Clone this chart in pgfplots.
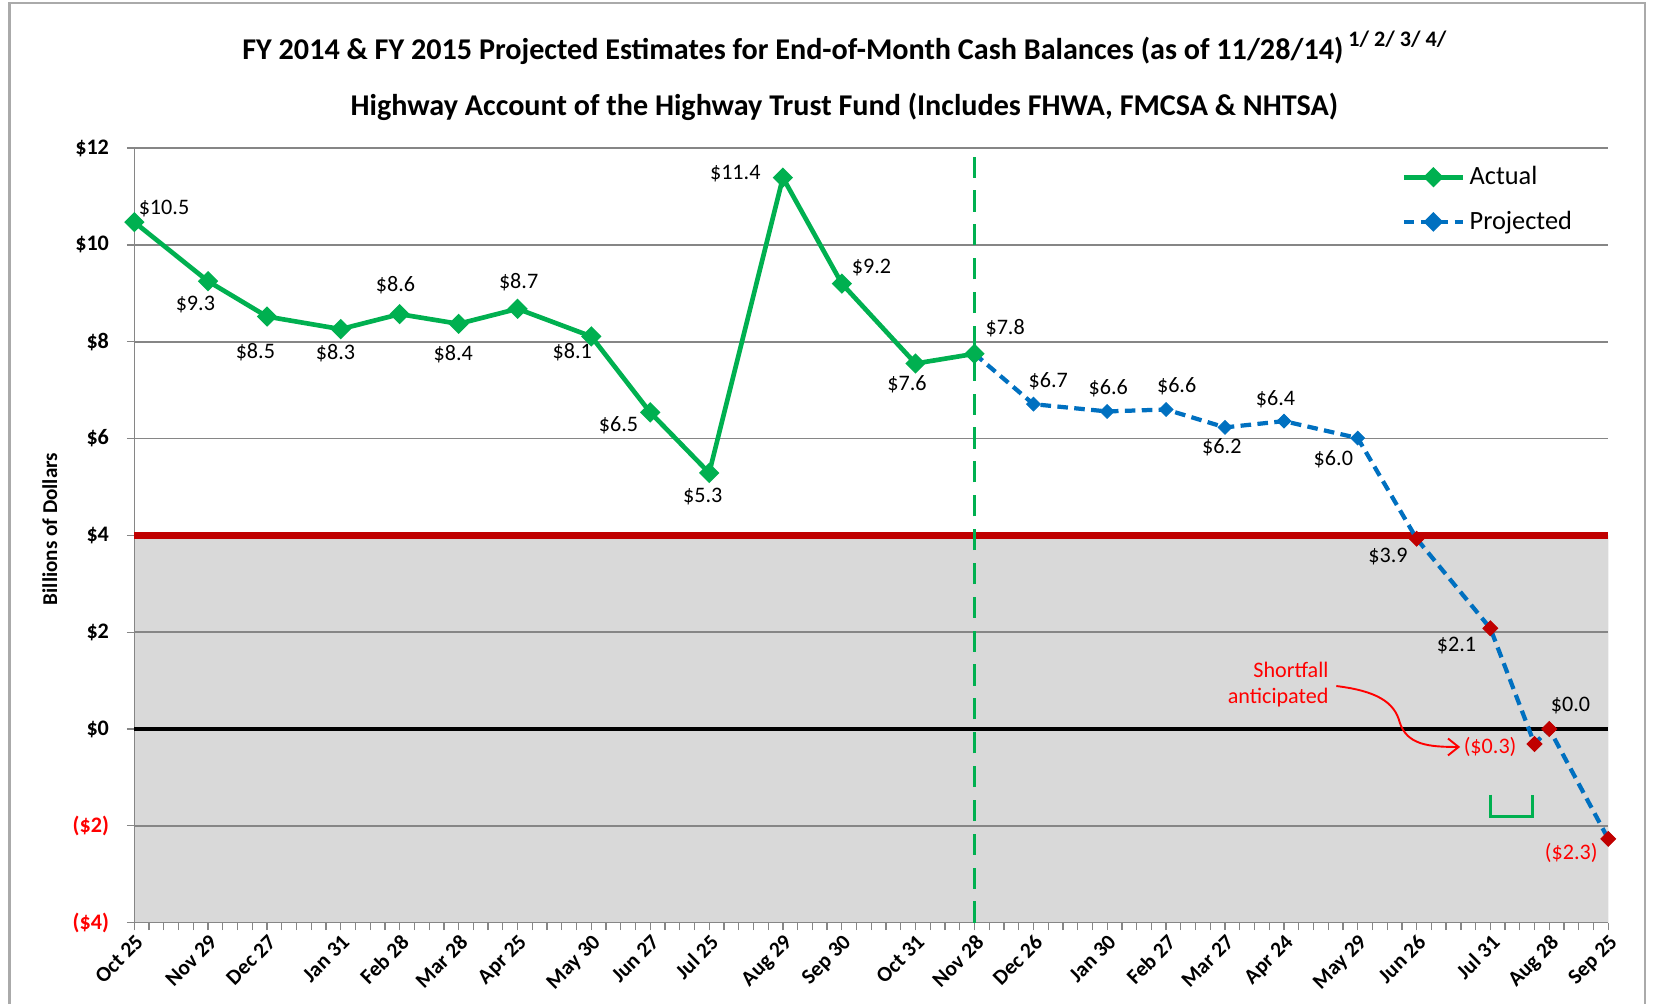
\documentclass[border=0pt]{standalone}
\usepackage{pgfplots}
\pgfplotsset{compat=1.18}
\usepackage{pgfplotstable}
\usepackage{fontspec}
\setmainfont{Carlito}
\usetikzlibrary{arrows.meta}
\definecolor{xlgreen}{HTML}{00B050}
\definecolor{xlblue}{HTML}{0070C0}
\definecolor{xldred}{HTML}{C00000}
\definecolor{xlred}{HTML}{FF0000}
\definecolor{xlgrid}{HTML}{868686}
\definecolor{xlfill}{HTML}{D9D9D9}

% x = days since Oct 25, 2013
\pgfplotstableread{
x   y      lbl   dx   dy
0   10.47  10.5  28   13
35  9.25   9.3   -12  -22
63  8.52   8.5   -11  -34
98  8.26   8.3   -5   -23
126 8.57   8.6   -4   27
154 8.37   8.4   -5   -29
182 8.68   8.7   1    25
217 8.11   8.1   -18  -15
245 6.54   6.5   -30  -12
273 5.29   5.3   -6   -22
308 11.39  11.4  -45  4
336 9.20   9.2   28   15
371 7.55   7.6   -8   -20
399 7.75   7.8   29   24
}\actual

\pgfplotstableread{
x   y
399 7.75
427 6.71
462 6.56
490 6.60
518 6.23
546 6.36
581 6.01
609 3.93
644 2.08
665 -0.31
672 0.00
700 -2.27
}\projected

\pgfplotstableread{
x   y      lbl   dx   dy
427 6.71   6.7   14   22
462 6.56   6.6   1    22
490 6.60   6.6   10   22
518 6.23   6.2   -3   -19
546 6.36   6.4   -8   21
581 6.01   6.0   -23  -20
}\projblue

\pgfplotstableread{
x   y      lbl   dx   dy
609 3.93   3.9   -27  -17
644 2.08   2.1   -32  -16
672 0.00   0.0   20   22
}\projredpos

\pgfplotstableread{
x   y      lbl   dx   dy
665 -0.31  0.3   -42  -3
700 -2.27  2.3   -35  -13
}\projredneg

\begin{document}
\begin{tikzpicture}
\begin{scope}[x=0.5bp,y=0.5bp]
\path (0,0) rectangle (1568,949);
% chart border
\draw[xlgrid!70, line width=1bp] (9,0) -- (9,946) -- (1555,946) -- (1555,0);
% titles
\node[font=\bfseries\fontsize{14.3}{16}\selectfont] at (798,904)
  {FY 2014 \& FY 2015 Projected Estimates for End-of-Month Cash Balances (as of 11/28/14)\,\raisebox{0.45em}{\fontsize{10.5}{12}\selectfont 1/ 2/ 3/ 4/}};
\node[font=\bfseries\fontsize{14.3}{16}\selectfont] at (798,848)
  {Highway Account of the Highway Trust Fund (Includes FHWA, FMCSA \& NHTSA)};
\node[rotate=90, font=\bfseries\fontsize{10}{12}\selectfont] at (47,449) {Billions of Dollars};
\end{scope}

\begin{axis}[
  at={(63.5bp,38.5bp)}, anchor=south west,
  scale only axis, width=696.5bp, height=366bp,
  set layers, clip=false,
  xmin=0, xmax=700, ymin=-4, ymax=12,
  axis x line*=bottom, axis y line*=left,
  axis line style={xlgrid, line width=0.75bp},
  tick align=outside,
  major tick length=3.5bp, minor tick length=3.5bp,
  every tick/.style={xlgrid, line width=0.6bp},
  xtick={0,35,63,98,126,154,182,217,245,273,308,336,371,399,427,462,490,518,546,581,609,644,672,700},
  xticklabels={Oct 25,Nov 29,Dec 27,Jan 31,Feb 28,Mar 28,Apr 25,May 30,Jun 27,Jul 25,Aug 29,Sep 30,Oct 31,Nov 28,Dec 26,Jan 30,Feb 27,Mar 27,Apr 24,May 29,Jun 26,Jul 31,Aug 28,Sep 25},
  minor xtick={0,7,...,700},
  xticklabel style={rotate=45, anchor=north east, font=\bfseries\fontsize{10.2}{12}\selectfont, inner sep=1bp},
  ytick={-4,-2,0,2,4,6,8,10,12},
  yticklabels={{\color{xlred}(\$4)},{\color{xlred}(\$2)},\$0,\$2,\$4,\$6,\$8,\$10,\$12},
  yticklabel style={font=\bfseries\fontsize{10.5}{12}\selectfont, xshift=-5bp},
  ymajorgrids, grid style={xlgrid, line width=0.75bp},
  legend style={draw=none, fill=none, at={(axis description cs:0.858,0.985)}, anchor=north west,
    font=\fontsize{12.5}{14}\selectfont, row sep=7bp, inner sep=1bp},
  legend cell align=left,
  legend image code/.code={\draw[mark repeat=2,mark phase=2,#1] plot coordinates {(0bp,0bp) (14bp,0bp) (28bp,0bp)};},
  nodes near coords style={font=\fontsize{10.5}{12}\selectfont},
]
% shaded band below $4
\addplot[on layer=axis background, draw=none, fill=xlfill, forget plot]
  coordinates {(0,-4) (700,-4) (700,4) (0,4)} \closedcycle;
% $4 threshold line
\addplot[xldred, line width=3.5bp, forget plot] coordinates {(0,4) (700,4)};
% zero line
\addplot[black, line width=1.6bp, forget plot] coordinates {(0,0) (700,0)};
% Nov 28 divider
\addplot[xlgreen, line width=1.5bp, dash pattern=on 10bp off 6bp, forget plot] coordinates {(399,-4) (399,12)};

% projected line
\addplot[xlblue, line width=2bp, dash pattern=on 5bp off 3bp, no marks, forget plot]
  table[x=x, y=y] {\projected};

% actual
\addplot[xlgreen, line width=2.2bp, mark=square*, mark size=2.3bp,
  mark options={rotate=45, solid, fill=xlgreen, draw=xlgreen},
  point meta=explicit symbolic,
  visualization depends on={\thisrow{dx} \as \dx},
  visualization depends on={\thisrow{dy} \as \dy},
  nodes near coords={\$\pgfplotspointmeta},
  every node near coord/.append style={anchor=center, black, xshift={\dx*0.5bp}, yshift={\dy*0.5bp}},
] table[x=x, y=y, meta=lbl] {\actual};
\addlegendentry{Actual}

\addlegendimage{xlblue, line width=2bp, dash pattern=on 5bp off 3bp, mark=square*, mark size=2.3bp,
  mark options={rotate=45, solid, fill=xlblue, draw=xlblue}}
\addlegendentry{Projected}

% projected blue markers
\addplot[only marks, mark=square*, mark size=2.3bp,
  mark options={rotate=45, fill=xlblue, draw=xlblue}, forget plot,
  point meta=explicit symbolic,
  visualization depends on={\thisrow{dx} \as \dx},
  visualization depends on={\thisrow{dy} \as \dy},
  nodes near coords={\$\pgfplotspointmeta},
  every node near coord/.append style={anchor=center, black, xshift={\dx*0.5bp}, yshift={\dy*0.5bp}},
] table[x=x, y=y, meta=lbl] {\projblue};

% projected red markers, positive labels
\addplot[only marks, mark=square*, mark size=2.5bp,
  mark options={rotate=45, fill=xldred, draw=xldred}, forget plot,
  point meta=explicit symbolic,
  visualization depends on={\thisrow{dx} \as \dx},
  visualization depends on={\thisrow{dy} \as \dy},
  nodes near coords={\$\pgfplotspointmeta},
  every node near coord/.append style={anchor=center, black, xshift={\dx*0.5bp}, yshift={\dy*0.5bp}},
] table[x=x, y=y, meta=lbl] {\projredpos};

% projected red markers, negative labels
\addplot[only marks, mark=square*, mark size=2.5bp,
  mark options={rotate=45, fill=xldred, draw=xldred}, forget plot,
  point meta=explicit symbolic,
  visualization depends on={\thisrow{dx} \as \dx},
  visualization depends on={\thisrow{dy} \as \dy},
  nodes near coords={(\$\pgfplotspointmeta)},
  every node near coord/.append style={anchor=center, xlred, xshift={\dx*0.5bp}, yshift={\dy*0.5bp}},
] table[x=x, y=y, meta=lbl] {\projredneg};
\end{axis}

\begin{scope}[x=0.5bp,y=0.5bp]
% shortfall annotation
\node[xlred, font=\fontsize{10.5}{12.5}\selectfont, align=right, anchor=east, inner sep=0pt] at (1256,302)
  {Shortfall\\anticipated};
\draw[xlred, line width=0.9bp, -{Straight Barb[length=5bp, width=8bp]}]
  (1263,300.6) .. controls (1300,296) and (1318,286) .. (1323,266)
  .. controls (1330,245) and (1350,243) .. (1380,243);
% green bracket
\draw[xlgreen, line width=1.4bp] (1409,198) -- (1409,177) -- (1448,177) -- (1448,198);
\end{scope}
\end{tikzpicture}
\end{document}
